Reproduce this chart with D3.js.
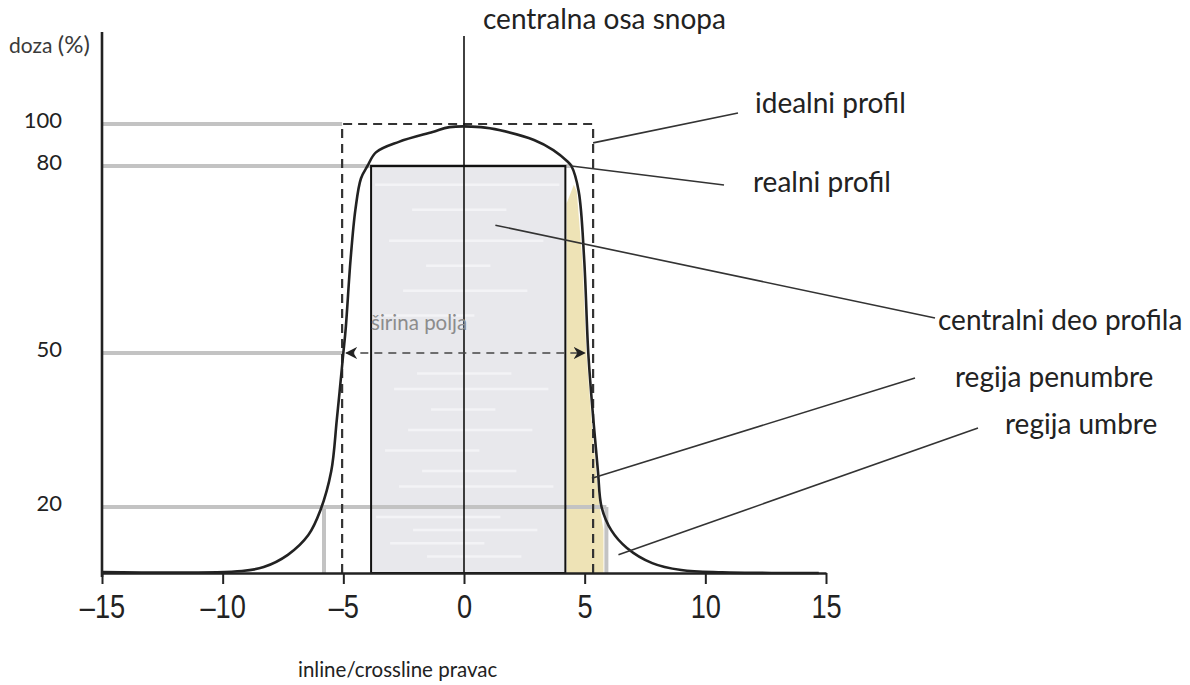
<!DOCTYPE html>
<html>
<head>
<meta charset="utf-8">
<script src="https://cdn.jsdelivr.net/npm/d3@7"></script>
<style>
  html, body { margin: 0; padding: 0; background: #fff; }
  svg { display: block; }
  .lbl { font-family: Lato, "Open Sans", sans-serif; fill: #222; }
  .tick text { font-family: "Liberation Sans", Arial, sans-serif; }
</style>
</head>
<body>
<svg id="chart" width="1190" height="685"></svg>
<script>
// Position across the beam (cm) and relative dose (%)
const xTicks = [-15, -10, -5, 0, 5, 10, 15];
const doseStops = [0, 20, 50, 80, 100];
const doseLevels = [100, 80, 50, 20];

// Measured beam profile
const profilePos  = [-15, -9.2, -8.3, -7.3, -6.45, -5.95, -5.5, -5.27, -5.0, -4.9, -4.7, -4.5, -4.27, -4.0,
                     -3.65, -2.7, -1.3, -0.6, 0.7, 1.5, 2.9, 3.7, 4.3, 4.45, 4.75, 4.98, 5.15, 5.36, 5.55,
                     5.7, 6.1, 6.75, 7.8, 9.0, 10.7, 13.2, 14.7];
const profileDose = [0.3, 0.6, 1.8, 5.5, 11.5, 19, 27, 37, 50, 54, 65, 73, 78, 80,
                     86.5, 91.5, 96.2, 98.5, 98.5, 97, 92.4, 87.6, 82, 80, 76, 65, 50, 37, 27,
                     20, 13, 7.6, 3, 0.9, 0.2, 0, 0];

// Ideal (rectangular) profile
const idealEdges = [-5.05, 5.35];
const idealDose = 100;
// Central part of the profile (80 % region)
const centralEdges = [-3.85, 4.2];
const centralDose = 80;
// Field width at 50 %
const fieldWidthEdges = [-5.0, 5.12];
// Edges of the 20 % level
const umbraEdges = [-5.8, 5.9];
// Reach of the 80 % guide line
const level80End = 4.5;

const svg = d3.select("#chart");

const x = d3.scaleLinear().domain([-15, 15]).range([102, 826]);
// Schematic dose axis: stretched between 20 % and 80 %
const y = d3.scaleLinear().domain(doseStops).range([573, 507, 353, 166, 124]);

const grey = "#c3c3c3";

// Shaded central part
svg.append("rect")
  .attr("x", x(centralEdges[0])).attr("y", y(centralDose))
  .attr("width", x(centralEdges[1]) - x(centralEdges[0]))
  .attr("height", y(0) - y(centralDose))
  .attr("fill", "#e8e8ec");

// Faint streaks inside the shaded part
const streaks = [77, 73, 68, 64, 60, 56, 46, 43, 39, 35, 31, 27, 24, 17, 13, 9, 5];
svg.append("g").selectAll("line").data(streaks).join("line")
  .attr("x1", (d, i) => x(centralEdges[0]) + 4 + (i * 37) % 60)
  .attr("x2", (d, i) => x(centralEdges[1]) - 6 - (i * 53) % 90)
  .attr("y1", d => y(d)).attr("y2", d => y(d))
  .attr("stroke", "#f3f3f6").attr("stroke-width", 2.5);

// Penumbra region highlight: between the central part and the profile
const penumbraPts = profilePos.map((p, i) => [p, profileDose[i]])
  .filter(d => d[0] > 4.6 && d[1] <= 76);
const penArea = [[centralEdges[1] + 0.05, 74], [4.55, 77]];
penumbraPts.forEach(d => penArea.push([Math.min(d[0] - 0.08, umbraEdges[1] - 0.12), d[1]]));
penArea.push([umbraEdges[1] - 0.12, 0]);
penArea.push([centralEdges[1] + 0.05, 0]);
svg.append("path")
  .attr("d", d3.line().x(d => x(d[0])).y(d => y(d[1])).curve(d3.curveLinear)(penArea))
  .attr("fill", "#eee3b6");

// Grey guide lines at the dose levels
const guideEnds = { 100: idealEdges[0], 80: level80End, 50: fieldWidthEdges[0], 20: umbraEdges[1] };
svg.append("g").selectAll("line").data(doseLevels).join("line")
  .attr("x1", x(-15)).attr("x2", d => x(guideEnds[d]))
  .attr("y1", d => y(d)).attr("y2", d => y(d))
  .attr("stroke", grey).attr("stroke-width", 4);

// Vertical grey lines at the 20 % edges
svg.append("g").selectAll("line").data(umbraEdges).join("line")
  .attr("x1", d => x(d)).attr("x2", d => x(d))
  .attr("y1", y(20)).attr("y2", y(0))
  .attr("stroke", grey).attr("stroke-width", 4);

// Central part outline
svg.append("rect")
  .attr("x", x(centralEdges[0])).attr("y", y(centralDose))
  .attr("width", x(centralEdges[1]) - x(centralEdges[0]))
  .attr("height", y(0) - y(centralDose))
  .attr("fill", "none").attr("stroke", "#111").attr("stroke-width", 2);

// Ideal profile (dashed)
svg.append("path")
  .attr("d", d3.line().x(d => x(d[0])).y(d => y(d[1]))([
    [idealEdges[0], 0], [idealEdges[0], idealDose], [idealEdges[1], idealDose], [idealEdges[1], 0]
  ]))
  .attr("fill", "none").attr("stroke", "#333").attr("stroke-width", 2.2)
  .attr("stroke-dasharray", "9,6");

// Central beam axis
svg.append("line")
  .attr("x1", x(0)).attr("x2", x(0))
  .attr("y1", 36).attr("y2", y(0))
  .attr("stroke", "#111").attr("stroke-width", 1.6);

// Measured profile
svg.append("path")
  .attr("d", d3.line().x((d, i) => x(profilePos[i])).y(d => y(d))
    .curve(d3.curveCatmullRom.alpha(0.5))(profileDose))
  .attr("fill", "none").attr("stroke", "#222").attr("stroke-width", 2.6);

// Field-width arrow at 50 %
svg.append("defs").append("marker")
  .attr("id", "arr").attr("viewBox", "0 0 10 10")
  .attr("refX", 9).attr("refY", 5)
  .attr("markerWidth", 12).attr("markerHeight", 12).attr("markerUnits", "userSpaceOnUse")
  .attr("orient", "auto-start-reverse")
  .append("path").attr("d", "M0,0 L10,5 L0,10 L3,5 Z").attr("fill", "#222");
svg.append("line")
  .attr("x1", x(fieldWidthEdges[0]) + 3).attr("x2", x(fieldWidthEdges[1]) - 3)
  .attr("y1", y(50)).attr("y2", y(50))
  .attr("stroke", "#444").attr("stroke-width", 1.6).attr("stroke-dasharray", "8,6")
  .attr("marker-start", "url(#arr)").attr("marker-end", "url(#arr)");

svg.append("text").attr("class", "lbl")
  .attr("x", x(centralEdges[0])).attr("y", y(50) - 23)
  .attr("font-size", 20.5).style("fill", "#8c8c8c")
  .text("širina polja");

// Axes
const xAxis = svg.append("g")
  .attr("transform", `translate(0,${y(0)})`)
  .call(d3.axisBottom(x).tickValues(xTicks).tickSize(11).tickSizeOuter(0)
    .tickFormat(d => d < 0 ? "\u2013" + Math.abs(d) : String(d)));
xAxis.select(".domain").attr("stroke", "#222").attr("stroke-width", 2.4);
xAxis.selectAll(".tick line").attr("stroke", "#222").attr("stroke-width", 2);
xAxis.selectAll(".tick text")
  .attr("font-size", 34).attr("fill", "#222").attr("dy", "0.9em")
  .attr("transform", "scale(0.8,1)");

svg.append("line")
  .attr("x1", x(-15)).attr("x2", x(-15))
  .attr("y1", 32).attr("y2", y(0) + 4)
  .attr("stroke", "#222").attr("stroke-width", 2.6);

// Dose level labels
svg.append("g").selectAll("text").data(doseLevels).join("text")
  .attr("class", "lbl")
  .attr("x", 62).attr("y", d => y(d) - 4)
  .attr("dy", "0.35em").attr("text-anchor", "end")
  .attr("font-size", 22)
  .text(d => d);

// Axis titles
const yt = svg.append("text").attr("class", "lbl").attr("x", 9).attr("y", 53).style("fill", "#3a3a3a");
yt.append("tspan").attr("font-size", 21).text("doza ");
yt.append("tspan").attr("font-size", 24).text("(%)");

svg.append("text").attr("class", "lbl")
  .attr("x", 298).attr("y", 677).attr("font-size", 20.5)
  .text("inline/crossline pravac");

// Annotations with leader lines
const notes = [
  { text: "centralna osa snopa", tx: 483, ty: 29, from: null },
  { text: "idealni profil", tx: 755, ty: 113, from: [idealEdges[1], 91], to: [738, 113] },
  { text: "realni profil", tx: 753, ty: 192, from: [4.45, 80], to: [724, 185] },
  { text: "centralni deo profila", tx: 938, ty: 330, from: [1.3, 70.5], to: [935, 318] },
  { text: "regija penumbre", tx: 955, ty: 387, from: [5.3, 25.6], to: [915, 378] },
  { text: "regija umbre", tx: 1005, ty: 434, from: [6.4, 5.5], to: [978, 428] }
];
svg.append("g").selectAll("line").data(notes.filter(d => d.from)).join("line")
  .attr("x1", d => x(d.from[0])).attr("y1", d => y(d.from[1]))
  .attr("x2", d => d.to[0]).attr("y2", d => d.to[1])
  .attr("stroke", "#333").attr("stroke-width", 1.6);
svg.append("g").selectAll("text").data(notes).join("text")
  .attr("class", "lbl")
  .attr("x", d => d.tx).attr("y", d => d.ty)
  .attr("font-size", 28)
  .text(d => d.text);
</script>
</body>
</html>
